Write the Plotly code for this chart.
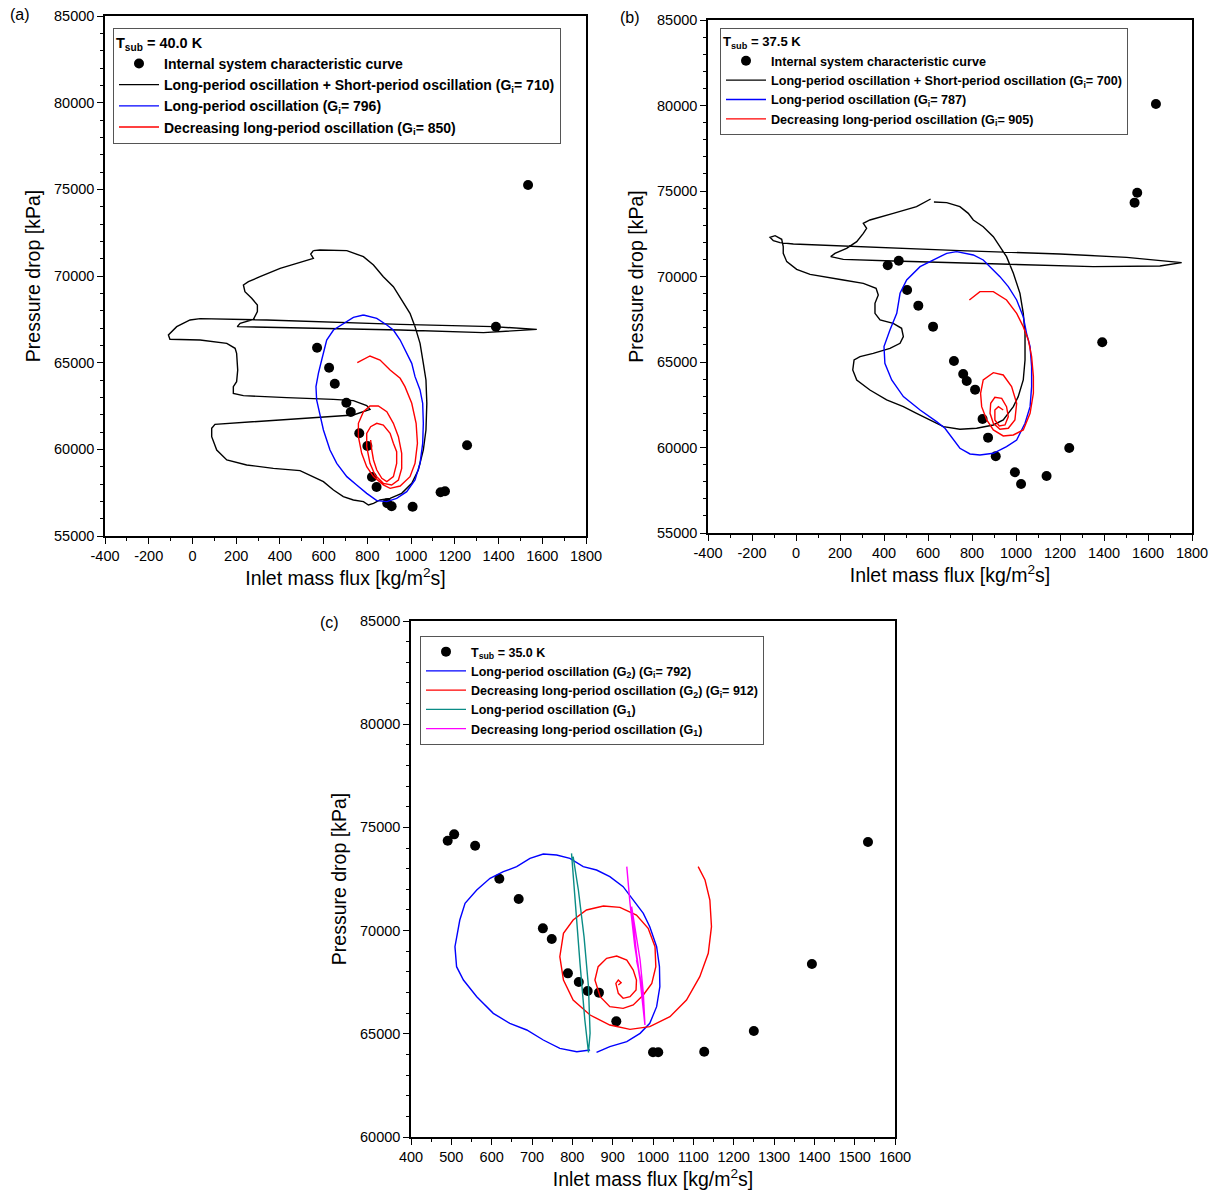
import plotly.graph_objects as go

FONT = "Liberation Sans"

# ---------------- Panel (a): T_sub = 40.0 K ----------------
a_dots_x = [1388, 570, 625, 651, 704, 724, 763, 800, 821, 842, 891, 911, 1007, 1135, 1155, 1256, 1535]
a_dots_y = [67077, 65864, 64710, 63787, 62691, 62155, 60925, 60193, 58405, 57827, 56887, 56713, 56690, 57522, 57580, 60233, 75250]

a_black_x = [553, 583, 706, 782, 828, 873, 919, 957, 995, 1018, 1041, 1056, 1068, 1072, 1068, 1056, 1033, 1003, 957, 904,
             858, 828, 805, 782, 736, 690, 645, 599, 553, 492, 370, 248, 157, 111, 88, 88, 103, 218, 401, 553,
             736, 812, 797, 736, 645, 431, 233, 187, 187, 202, 207, 202, 195, 157, 35, -103, -110, -72, -11, 35,
             340, 950, 1377, 1575, 1483, 1331, 950, 492, 263, 205, 218, 279, 297, 297, 271, 240, 233, 256, 309, 401,
             477, 553, 541, 553]
a_black_y = [71462, 71500, 71462, 71116, 70635, 69962, 69385, 68616, 67847, 67077, 66116, 64962, 64000, 62654, 61116, 59962, 58808, 58039, 57462, 57174,
             57078, 56885, 56789, 56982, 57078, 57270, 57654, 58135, 58424, 58770, 58904, 59097, 59385, 59962, 60731, 61212, 61443, 61539, 61693, 61827,
             61981, 62308, 62520, 62808, 62885, 62981, 63097, 63231, 63616, 63904, 64577, 65539, 65827, 66116, 66308, 66347, 66596, 67077, 67462, 67539,
             67462, 67212, 67077, 66923, 66847, 66731, 66885, 66981, 67039, 67077, 67270, 67500, 67943, 68327, 68712, 69097, 69481, 69673, 69962, 70442,
             70731, 71020, 71270, 71462]

a_blue_x = [782, 843, 889, 919, 950, 980, 1003, 1018, 1041, 1053, 1056, 1053, 1041, 1018, 980, 934, 889, 843, 797, 751,
            706, 660, 629, 599, 584, 568, 565, 576, 591, 614, 645, 690, 736, 782]
a_blue_y = [67750, 67558, 67173, 66885, 66308, 65539, 64962, 64193, 63424, 62654, 61501, 60347, 59193, 58231, 57558, 57174, 56981, 57039, 57462, 57943,
            58424, 59193, 59962, 61116, 61885, 62847, 63616, 64385, 65154, 66308, 66885, 67270, 67616, 67750]

a_red_x = [754, 812, 858, 904, 950, 972, 1003, 1023, 1029, 1018, 995, 950, 904, 873, 828, 797, 774, 759, 759, 782,
           812, 850, 889, 919, 942, 957, 957, 942, 911, 873, 835, 812, 797, 797, 815, 843, 873, 904, 919, 934,
           934, 919, 889, 866, 843, 828, 820, 815]
a_red_y = [65000, 65385, 65154, 64577, 64097, 63616, 62654, 61501, 60347, 59193, 58424, 57885, 57751, 57943, 58424, 59001, 59770, 60731, 61501, 62174,
           62501, 62501, 62174, 61501, 60731, 59770, 58904, 58231, 57943, 58039, 58520, 59193, 60154, 60924, 61308, 61501, 61404, 60924, 60347, 59866,
           59193, 58424, 58135, 58327, 58808, 59385, 59962, 60539]

# ---------------- Panel (b): T_sub = 37.5 K ----------------
b_dots_x = [1551, 1539, 417, 467, 505, 556, 623, 718, 760, 776, 814, 848, 873, 908, 995, 1023, 1139, 1242, 1392, 1636]
b_dots_y = [74902, 74318, 70653, 70926, 69211, 68295, 67068, 65060, 64300, 63890, 63384, 61668, 60577, 59486, 58550, 57868, 58336, 59973, 66151, 80088]

b_black_x = [612, 548, 442, 336, 306, 321, 306, 276, 230, 177, 158, 215, 442, 897, 1351, 1654, 1753, 1503, 1200, 745,
             291, -12, -73, -103, -118, -95, -65, -58, -58, -42, 3, 64, 215, 306, 364, 374, 359, 359, 382, 442,
             480, 488, 473, 427, 351, 291, 264, 258, 276, 336, 412, 488, 548, 609, 670, 745, 821, 897, 942, 988,
             1010, 1033, 1041, 1041, 1033, 1018, 988, 957, 927, 897, 851, 806, 783, 745, 685, 627]
b_black_y = [74532, 74084, 73694, 73304, 73109, 72817, 72525, 72037, 71647, 71355, 71160, 71004, 70907, 70732, 70576, 70615, 70809, 71121, 71316, 71511,
             71745, 71901, 71979, 72096, 72291, 72388, 72174, 71745, 71355, 70868, 70420, 70127, 69796, 69601, 69309, 68919, 68432, 67847, 67457, 67262,
             66970, 66483, 66093, 65801, 65508, 65313, 65118, 64534, 63949, 63364, 62780, 62390, 62000, 61610, 61220, 61065, 61123, 61318, 61610, 62390,
             62974, 63949, 65118, 66678, 67847, 69017, 70186, 71160, 71745, 72330, 72914, 73304, 73694, 74084, 74318, 74357]

b_blue_x = [730, 806, 851, 882, 927, 965, 1003, 1033, 1048, 1064, 1071, 1071, 1064, 1041, 1003, 957, 897, 836, 791, 745,
            707, 677, 639, 564, 488, 435, 404, 400, 427, 458, 473, 503, 564, 624, 685, 730]
b_blue_y = [71453, 71258, 70965, 70576, 69991, 69406, 68627, 67652, 66678, 65898, 64729, 63559, 62390, 61415, 60441, 60051, 59661, 59564, 59622, 59954,
            60636, 61123, 61513, 62195, 62974, 63949, 64924, 65898, 66873, 67847, 69017, 69796, 70576, 70965, 71355, 71453]

b_red_x = [788, 836, 897, 957, 1003, 1033, 1056, 1071, 1079, 1079, 1064, 1033, 988, 942, 897, 867, 844, 839, 851, 897,
           942, 980, 1003, 995, 965, 927, 897, 882, 885, 904, 935, 957, 965, 950, 924, 904, 904, 920, 942]
b_red_y = [68627, 69114, 69114, 68627, 67847, 67068, 66288, 65313, 64144, 63170, 62000, 61025, 60733, 60675, 61025, 61610, 62390, 63170, 63949, 64378,
           64241, 63559, 62585, 61610, 61123, 61065, 61415, 62000, 62585, 62936, 62877, 62390, 61805, 61318, 61260, 61610, 62195, 62390, 62195]

# ---------------- Panel (c): T_sub = 35.0 K ----------------
c_dots_x = [491, 507, 559, 619, 667, 727, 749, 789, 816, 838, 866, 909, 1000, 1013, 1127, 1250, 1394, 1533]
c_dots_y = [74357, 74664, 74114, 72516, 71531, 70109, 69593, 67929, 67509, 67073, 66993, 65603, 64102, 64102, 64134, 65136, 68382, 74292]

c_blue_x = [860, 893, 935, 968, 992, 1009, 1017, 1016, 1009, 992, 976, 951, 926, 893, 860, 827, 794, 761, 728, 695,
            662, 629, 596, 563, 534, 521, 509, 513, 530, 563, 604, 645, 687, 728, 769, 811, 844]
c_blue_y = [64102, 64376, 64619, 65022, 65507, 66314, 67283, 68252, 69221, 70190, 70836, 71482, 72128, 72613, 72936, 73097, 73501, 73662, 73711, 73501,
            73097, 72855, 72532, 71967, 71321, 70513, 69221, 68252, 67606, 66798, 65991, 65507, 65184, 64699, 64296, 64134, 64215]

c_red_x = [1112, 1129, 1141, 1145, 1137, 1116, 1083, 1042, 992, 943, 893, 844, 802, 778, 769, 778, 802, 835, 877, 918,
           959, 988, 1005, 1007, 997, 976, 951, 926, 893, 869, 856, 864, 885, 910, 935, 951, 959, 958, 943, 926,
           914, 908, 914, 921, 914]
c_red_y = [73097, 72451, 71482, 70190, 68898, 67768, 66637, 65829, 65345, 65216, 65426, 65910, 66637, 67606, 68737, 69867, 70513, 70998, 71191, 71127,
           70755, 70109, 69221, 68252, 67444, 66879, 66395, 66233, 66314, 66798, 67606, 68252, 68656, 68769, 68575, 68091, 67606, 67121, 66798, 66718,
           66960, 67444, 67606, 67477, 67364]

c_teal_x = [798, 807, 819, 831, 840, 844, 840, 829, 815, 802]
c_teal_y = [73743, 71321, 68414, 65668, 64102, 65022, 67283, 69706, 71967, 73581]

c_mag_x = [935, 943, 955, 968, 980, 976, 968, 951, 947, 959, 972, 978, 968, 959]
c_mag_y = [73097, 71321, 69221, 67606, 65426, 66960, 68575, 70513, 71160, 68898, 67283, 66314, 67767, 68575]

# tick labels
ab_xticks = [-400, -200, 0, 200, 400, 600, 800, 1000, 1200, 1400, 1600, 1800]
ab_xtext = ["-400", "-200", "0", "200", "400", "600", "800", "1000", "1200", "1400", "1600", "1800"]
ab_yticks = [55000, 60000, 65000, 70000, 75000, 80000, 85000]
c_xticks = [400, 500, 600, 700, 800, 900, 1000, 1100, 1200, 1300, 1400, 1500, 1600]
c_yticks = [60000, 65000, 70000, 75000, 80000, 85000]

W, H = 1216, 1199
fig = go.Figure()

def line(x, y, name, color, xa, ya, leg, width=1.4, show=True):
    fig.add_trace(go.Scatter(x=x, y=y, mode="lines", name=name, line=dict(color=color, width=width),
                             xaxis=xa, yaxis=ya, legend=leg, showlegend=show))

def dots(x, y, name, xa, ya, leg):
    fig.add_trace(go.Scatter(x=x, y=y, mode="markers", name=name, marker=dict(color="black", size=10),
                             xaxis=xa, yaxis=ya, legend=leg))

# panel a
dots(a_dots_x, a_dots_y, "Internal system characteristic curve", "x", "y", "legend")
line(a_black_x, a_black_y, "Long-period oscillation + Short-period oscillation (G<sub>i</sub>= 710)", "black", "x", "y", "legend")
line(a_blue_x, a_blue_y, "Long-period oscillation (G<sub>i</sub>= 796)", "#0000ff", "x", "y", "legend")
line(a_red_x, a_red_y, "Decreasing long-period oscillation (G<sub>i</sub>= 850)", "#ff0000", "x", "y", "legend")
# panel b
dots(b_dots_x, b_dots_y, "Internal system characteristic curve", "x2", "y2", "legend2")
line(b_black_x, b_black_y, "Long-period oscillation + Short-period oscillation (G<sub>i</sub>= 700)", "black", "x2", "y2", "legend2")
line(b_blue_x, b_blue_y, "Long-period oscillation (G<sub>i</sub>= 787)", "#0000ff", "x2", "y2", "legend2")
line(b_red_x, b_red_y, "Decreasing long-period oscillation (G<sub>i</sub>= 905)", "#ff0000", "x2", "y2", "legend2")
# panel c
dots(c_dots_x, c_dots_y, "T<sub>sub</sub> = 35.0 K", "x3", "y3", "legend3")
line(c_blue_x, c_blue_y, "Long-period oscillation (G<sub>2</sub>) (G<sub>i</sub>= 792)", "#0000ff", "x3", "y3", "legend3")
line(c_red_x, c_red_y, "Decreasing long-period oscillation (G<sub>2</sub>) (G<sub>i</sub>= 912)", "#ff0000", "x3", "y3", "legend3")
line(c_teal_x, c_teal_y, "Long-period oscillation (G<sub>1</sub>)", "#0a8c86", "x3", "y3", "legend3")
line(c_mag_x, c_mag_y, "Decreasing long-period oscillation (G<sub>1</sub>)", "#ff00ff", "x3", "y3", "legend3")

def axis(domain, rng, tickvals, ticktext, minor_dtick, anchor, title):
    return dict(domain=domain, range=rng, anchor=anchor, tickvals=tickvals, ticktext=ticktext,
                automargin=False,
                showline=True, linecolor="black", linewidth=1.5, mirror=True,
                ticks="outside", ticklen=6, tickcolor="black", tickwidth=1,
                showgrid=False, zeroline=False,
                tickfont=dict(family=FONT, size=14.5, color="black"),
                minor=dict(ticks="outside", ticklen=3, dtick=minor_dtick, tickcolor="black", showgrid=False),
                title=dict(text=title, font=dict(family=FONT, size=19.5, color="black"), standoff=8))

XT = "Inlet mass flux [kg/m<sup>2</sup>s]"
YT = "Pressure drop [kPa]"

def px_x(p):
    return p / W

def px_y(p):
    return 1 - p / H

def leg(x, y, size, title=None):
    d = dict(x=px_x(x), y=px_y(y), bgcolor="white", bordercolor="#555555", borderwidth=1,
             font=dict(family=FONT, size=size, color="black", weight="bold"),
             xanchor="left", yanchor="top", tracegroupgap=0, itemwidth=40)
    if title:
        d["title"] = dict(text=title, font=dict(family=FONT, size=size + 0.5, color="black", weight="bold"))
    return d

fig.update_layout(
    width=W, height=H, margin=dict(l=0, r=0, t=0, b=0, autoexpand=False),
    paper_bgcolor="white", plot_bgcolor="white",
    xaxis=axis([px_x(105), px_x(586)], [-400, 1800], ab_xticks, ab_xtext, 100, "y", XT),
    yaxis=axis([px_y(536), px_y(16)], [55000, 85000], ab_yticks, [str(v) for v in ab_yticks], 1000, "x", YT),
    xaxis2=axis([px_x(708), px_x(1192)], [-400, 1800], ab_xticks, ab_xtext, 100, "y2", XT),
    yaxis2=axis([px_y(533), px_y(20)], [55000, 85000], ab_yticks, [str(v) for v in ab_yticks], 1000, "x2", YT),
    xaxis3=axis([px_x(411), px_x(895)], [400, 1600], c_xticks, [str(v) for v in c_xticks], 50, "y3", XT),
    yaxis3=axis([px_y(1137), px_y(621)], [60000, 85000], c_yticks, [str(v) for v in c_yticks], 1000, "x3", YT),
    legend=leg(113, 28, 14, "T<sub>sub</sub> = 40.0 K"),
    legend2=leg(720, 28, 12.6, "T<sub>sub</sub> = 37.5 K"),
    legend3=leg(420, 636, 12.5),
    showlegend=True,
)

for txt, x, y in [("(a)", 8, 15), ("(b)", 618, 18), ("(c)", 318, 622)]:
    fig.add_annotation(text=txt, x=px_x(x), y=px_y(y), xref="paper", yref="paper",
                       xanchor="left", yanchor="middle", showarrow=False,
                       font=dict(family=FONT, size=16, color="black"))

fig.write_html("out.html")
